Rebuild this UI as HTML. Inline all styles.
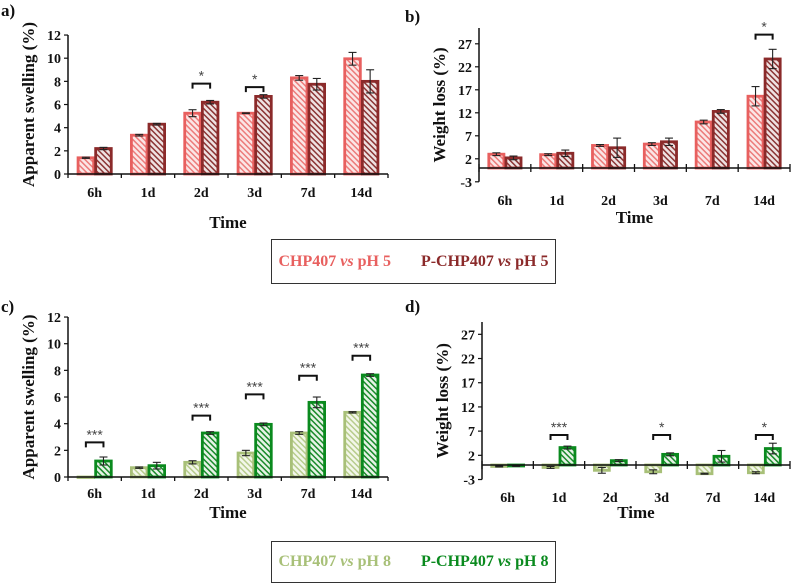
<!DOCTYPE html>
<html><head><meta charset="utf-8"><style>
body{margin:0;background:#fff;width:793px;height:587px;overflow:hidden;font-family:"Liberation Serif",serif}
svg{position:absolute;left:0;top:0}
.legend{position:absolute;left:271px;width:285px;border:1.5px solid #333;box-sizing:border-box;font-weight:bold;font-size:16px;display:flex;justify-content:center;align-items:center;gap:30px;font-family:"Liberation Serif",serif}
</style></head><body>
<svg id="chart" width="793" height="587" xmlns="http://www.w3.org/2000/svg">
<defs>
<pattern id="hp1" width="4" height="4" patternUnits="userSpaceOnUse" patternTransform="rotate(45)"><rect width="4" height="4" fill="#fbe6e6"/><rect width="4" height="1.5" fill="#ec7b7a"/></pattern>
<pattern id="hp2" width="4" height="4" patternUnits="userSpaceOnUse" patternTransform="rotate(45)"><rect width="4" height="4" fill="#efe2e2"/><rect width="4" height="1.5" fill="#8b3434"/></pattern>
<pattern id="hp3" width="4" height="4" patternUnits="userSpaceOnUse" patternTransform="rotate(45)"><rect width="4" height="4" fill="#f3f7ea"/><rect width="4" height="1.5" fill="#b7cc8c"/></pattern>
<pattern id="hp4" width="4" height="4" patternUnits="userSpaceOnUse" patternTransform="rotate(45)"><rect width="4" height="4" fill="#e6f3e6"/><rect width="4" height="1.5" fill="#198a2a"/></pattern>
</defs>
</svg>
<div class="legend" style="top:239px;height:45px">
<span style="color:#e8605f">CHP407 <i>vs</i> pH 5</span>
<span style="color:#8b2a2a">P-CHP407 <i>vs</i> pH 5</span>
</div>
<div class="legend" style="top:541px;height:42px">
<span style="color:#a8c078">CHP407 <i>vs</i> pH 8</span>
<span style="color:#0a8a1e">P-CHP407 <i>vs</i> pH 8</span>
</div>
<script>
const categories = ["6h","1d","2d","3d","7d","14d"];
const aTicks = [0,2,4,6,8,10,12];
const aS1 = [1.4,3.35,5.25,5.25,8.3,9.95];
const aE1 = [0.05,0.07,0.3,0.03,0.2,0.55];
const aS2 = [2.2,4.3,6.2,6.7,7.75,8.0];
const aE2 = [0.1,0.07,0.15,0.15,0.5,1.0];
const aSig = [["2d",7.8,"*"],["3d",7.5,"*"]];
const bTicks = [-3,2,7,12,17,22,27];
const bS1 = [3.0,2.9,4.9,5.2,10.0,15.6];
const bE1 = [0.3,0.2,0.2,0.3,0.4,2.1];
const bS2 = [2.2,3.2,4.4,5.7,12.3,23.7];
const bE2 = [0.4,0.7,2.1,0.8,0.4,2.1];
const bSig = [["14d",29,"*"]];
const cTicks = [0,2,4,6,8,10,12];
const cS1 = [0.0,0.7,1.1,1.8,3.3,4.85];
const cE1 = [0,0.05,0.12,0.2,0.1,0.05];
const cS2 = [1.2,0.85,3.3,3.95,5.6,7.65];
const cE2 = [0.3,0.25,0.1,0.1,0.4,0.1];
const cSig = [["6h",2.6,"***"],["2d",4.6,"***"],["3d",6.2,"***"],["7d",7.6,"***"],["14d",9.1,"***"]];
const dTicks = [-3,2,7,12,17,22,27];
const dS1 = [-0.3,-0.5,-1.1,-1.4,-1.8,-1.6];
const dE1 = [0.1,0.2,0.6,0.4,0.1,0.2];
const dS2 = [-0.2,3.6,0.9,2.2,1.8,3.4];
const dE2 = [0.1,0.3,0.2,0.3,1.2,1.1];
const dSig = [["1d",6.2,"***"],["3d",6.2,"*"],["14d",6.2,"*"]];

const svg=document.getElementById('chart');
const NS='http://www.w3.org/2000/svg';
function mk(tag,attrs,parent){const e=document.createElementNS(NS,tag);for(const k in attrs)e.setAttribute(k,attrs[k]);(parent||svg).appendChild(e);return e;}
function txt(x,y,s,size,anchor,parent){const t=mk('text',{x:x,y:y,'font-size':size,'font-weight':'bold','text-anchor':anchor||'middle','font-family':'"Liberation Serif",serif',fill:'#111'},parent);t.textContent=s;return t;}

function panel(cfg){
  const g=mk('g',{});
  
  
  const x0=cfg.x0,x1=cfg.x1,yMin=cfg.ticks[0],yMax=cfg.ticks[cfg.ticks.length-1];
  const Y=v=>cfg.yZero-(v)*cfg.ppu;
  const cw=(x1-x0)/categories.length;
  const X=i=>x0+cw*(i+0.5);
  const lab=txt(cfg.lx,cfg.ly,cfg.id+')',17,'start',g);
  
  
  const ya=mk('line',{x1:x0,x2:x0,y1:cfg.yTop,y2:Y(yMin),stroke:'#111','stroke-width':1.5},g);
  
  
  cfg.ticks.forEach(t=>{
    mk('line',{x1:x0-4,x2:x0,y1:Y(t),y2:Y(t),stroke:'#111','stroke-width':1.2},g);
    const tl=txt(x0-7,Y(t)+5,String(t),14,'end',g);
    
    
  });
  const yt=txt(0,0,cfg.ytitle,17,'middle',g);
  yt.setAttribute('transform','translate('+cfg.ytx+','+((cfg.yTop+Y(yMin))/2)+') rotate(-90)');
  
  
  const bw=cw*0.33;
  const series=[[cfg.s1,cfg.e1,cfg.p1,cfg.c1,-1],[cfg.s2,cfg.e2,cfg.p2,cfg.c2,0]];
  series.forEach((s,si)=>{
    s[0].forEach((v,i)=>{
      const bx=X(i)+s[4]*bw;
      const top=Math.min(Y(v),Y(0)),h=Math.abs(Y(v)-Y(0));
      const r=mk('rect',{x:bx+1,y:top,width:bw-2,height:Math.max(h,0.5),fill:'url(#'+s[2]+')',stroke:s[3],'stroke-width':2.8},g);
      
      
      const e=s[1][i],cx=bx+bw/2;
      if(e>0){
        const ec=mk('g',{stroke:'#222','stroke-width':1.1},g);
        
        
        mk('line',{x1:cx,x2:cx,y1:Y(v+e),y2:Y(v-e)},ec);
        mk('line',{x1:cx-4,x2:cx+4,y1:Y(v+e),y2:Y(v+e)},ec);
        mk('line',{x1:cx-4,x2:cx+4,y1:Y(v-e),y2:Y(v-e)},ec);
      }
    });
  });
  const xa=mk('line',{x1:x0,x2:x1,y1:Y(0),y2:Y(0),stroke:'#111','stroke-width':1.5},g);
  
  
  for(let i=0;i<=categories.length;i++){
    const tx=x0+cw*i;
    mk('line',{x1:tx,x2:tx,y1:Y(0)-(cfg.cross?4:0),y2:Y(0)+4,stroke:'#111','stroke-width':1.3},g);
  }
  categories.forEach((c,i)=>{
    const tl=txt(X(i),cfg.tly,c,14,'middle',g);
    
    
  });
  const xt=txt((x0+x1)/2,cfg.tty,'Time',17,'middle',g);
  
  
  cfg.sig.forEach(s=>{
    const i=categories.indexOf(s[0]);
    const ax=X(i)-bw/2,bx=X(i)+bw/2,yy=Y(s[1]);
    const sg=mk('g',{},g);
    
    
    mk('path',{d:'M'+ax+' '+(yy+5)+'V'+yy+'H'+bx+'V'+(yy+5),fill:'none',stroke:'#111','stroke-width':2},sg);
    const st=mk('text',{x:(ax+bx)/2,y:yy-3,'font-size':14,'text-anchor':'middle','font-family':'"Liberation Sans",sans-serif',fill:'#444'},sg);
    st.textContent=s[2];
  });
}
panel({id:'a',x0:68,x1:388,yZero:174,ppu:11.58,yTop:35,ticks:aTicks,s1:aS1,e1:aE1,s2:aS2,e2:aE2,p1:'hp1',p2:'hp2',c1:'#e8605f',c2:'#8b2a2a',sig:aSig,ytitle:'Apparent swelling (%)',ytx:34,tly:197,tty:228,lx:1,ly:16});
panel({id:'b',x0:479,x1:790,yZero:168,ppu:4.6,yTop:28,ticks:bTicks,s1:bS1,e1:bE1,s2:bS2,e2:bE2,p1:'hp1',p2:'hp2',c1:'#e8605f',c2:'#8b2a2a',sig:bSig,ytitle:'Weight loss (%)',ytx:445,tly:205,tty:223,lx:405,ly:22,cross:true});
panel({id:'c',x0:68,x1:388,yZero:477,ppu:13.33,yTop:317,ticks:cTicks,s1:cS1,e1:cE1,s2:cS2,e2:cE2,p1:'hp3',p2:'hp4',c1:'#a8c078',c2:'#0a8a1e',sig:cSig,ytitle:'Apparent swelling (%)',ytx:34,tly:498,tty:518,lx:1,ly:312});
panel({id:'d',x0:482,x1:790,yZero:465,ppu:4.84,yTop:322,ticks:dTicks,s1:dS1,e1:dE1,s2:dS2,e2:dE2,p1:'hp3',p2:'hp4',c1:'#a8c078',c2:'#0a8a1e',sig:dSig,ytitle:'Weight loss (%)',ytx:448,tly:502,tty:518,lx:405,ly:312,cross:true});
</script>
</body></html>
